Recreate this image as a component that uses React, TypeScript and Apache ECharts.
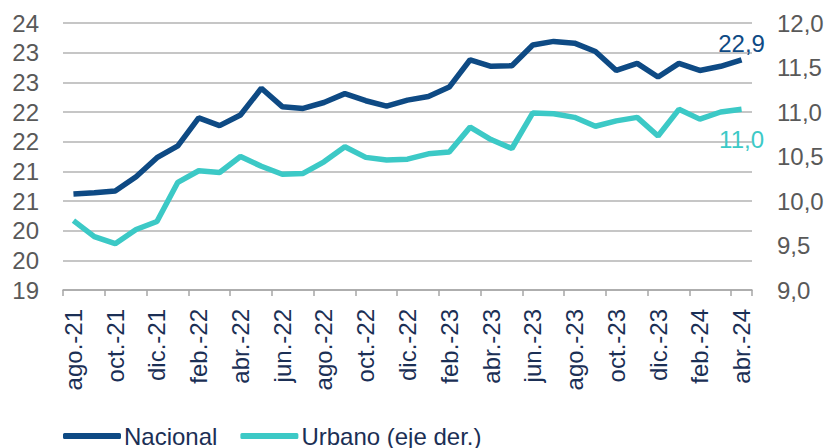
import React, { useEffect, useRef } from "react";
import * as echarts from "echarts";

const months = [
  "ago.-21", "sep.-21", "oct.-21", "nov.-21", "dic.-21",
  "ene.-22", "feb.-22", "mar.-22", "abr.-22", "may.-22", "jun.-22", "jul.-22",
  "ago.-22", "sep.-22", "oct.-22", "nov.-22", "dic.-22",
  "ene.-23", "feb.-23", "mar.-23", "abr.-23", "may.-23", "jun.-23", "jul.-23",
  "ago.-23", "sep.-23", "oct.-23", "nov.-23", "dic.-23",
  "ene.-24", "feb.-24", "mar.-24", "abr.-24",
];

const nacional = [
  20.62, 20.64, 20.67, 20.91, 21.23, 21.43, 21.9, 21.77, 21.95, 22.4, 22.09,
  22.06, 22.16, 22.31, 22.19, 22.1, 22.2, 22.26, 22.42, 22.88, 22.77, 22.78,
  23.13, 23.19, 23.16, 23.02, 22.7, 22.82, 22.59, 22.82, 22.7, 22.77, 22.88,
];

const urbano = [
  9.78, 9.6, 9.52, 9.68, 9.77, 10.21, 10.34, 10.32, 10.5, 10.39, 10.3, 10.31,
  10.44, 10.61, 10.49, 10.46, 10.47, 10.53, 10.55, 10.83, 10.69, 10.59, 10.99,
  10.98, 10.94, 10.84, 10.9, 10.94, 10.73, 11.03, 10.92, 11.0, 11.03,
];

const seriesNames = ["Nacional", "Urbano (eje der.)"];

const NAVY = "#0E4A84";
const TEAL = "#3CC9C6";
const LABEL_DARK = "#1B2F55";
const GRAY = "#595959";
const FONT = "'Liberation Sans', Arial, sans-serif";

const comma = (v: number) => v.toFixed(1).replace(".", ",");

export default function App() {
  const ref = useRef<HTMLDivElement>(null);
  useEffect(() => {
    if (!ref.current) return;
    const chart = echarts.init(ref.current, null, { renderer: "svg" });
    const last = months.length - 1;
    const withLabel = (arr: number[], color: string, position: string, distance: number) =>
      arr.map((v, i) =>
        i === last
          ? {
              value: v,
              label: {
                show: true,
                position,
                distance,
                color,
                fontSize: 24,
                fontFamily: FONT,
                formatter: (p: any) => comma(Number(p.value)),
              },
            }
          : v
      );
    chart.setOption({
      animation: false,
      textStyle: { fontFamily: FONT },
      grid: { left: 63, top: 23, width: 689, height: 267, containLabel: false },
      legend: {
        left: 58,
        top: 419,
        itemWidth: 58,
        itemHeight: 6,
        itemGap: 23,
        icon: "roundRect",
        textStyle: { color: LABEL_DARK, fontSize: 24, fontFamily: FONT, padding: [0, 0, 0, -2] },
        data: seriesNames,
      },
      xAxis: {
        type: "category",
        data: months,
        boundaryGap: true,
        axisLine: { show: true, lineStyle: { color: "#A6A6A6", width: 1.5 } },
        axisTick: { show: true, interval: 1, length: 6, lineStyle: { color: "#A6A6A6", width: 1.5 } },
        axisLabel: {
          interval: 1,
          rotate: 90,
          margin: 19,
          color: LABEL_DARK,
          fontSize: 24,
          fontFamily: FONT,
        },
        splitLine: { show: false },
      },
      yAxis: [
        {
          type: "value",
          min: 19,
          max: 23.5,
          interval: 0.5,
          axisLine: { show: false },
          axisTick: { show: false },
          axisLabel: {
            margin: 24,
            color: GRAY,
            fontSize: 24,
            fontFamily: FONT,
            formatter: (v: number) => String(Math.round(v)),
          },
          splitLine: { show: true, lineStyle: { color: "#B3B3B3", width: 1.5 } },
        },
        {
          type: "value",
          min: 9,
          max: 12,
          interval: 0.5,
          axisLine: { show: false },
          axisTick: { show: false },
          axisLabel: {
            margin: 25,
            color: GRAY,
            fontSize: 24,
            fontFamily: FONT,
            formatter: (v: number) => comma(v),
          },
          splitLine: { show: false },
        },
      ],
      series: [
        {
          name: seriesNames[0],
          type: "line",
          yAxisIndex: 0,
          data: withLabel(nacional, NAVY, "top", 4),
          color: NAVY,
          symbol: "circle",
          symbolSize: 0,
          showSymbol: true,
          showAllSymbol: true,
          lineStyle: { color: NAVY, width: 5.5 },
          z: 3,
        },
        {
          name: seriesNames[1],
          type: "line",
          yAxisIndex: 1,
          data: withLabel(urbano, TEAL, "bottom", 18),
          color: TEAL,
          symbol: "circle",
          symbolSize: 0,
          showSymbol: true,
          showAllSymbol: true,
          lineStyle: { color: TEAL, width: 5.5 },
          z: 2,
        },
      ],
    });
    return () => chart.dispose();
  }, []);
  return (
    <div
      ref={ref}
      style={{ position: "fixed", left: 0, top: 0, width: 832, height: 448, background: "#fff" }}
    />
  );
}
